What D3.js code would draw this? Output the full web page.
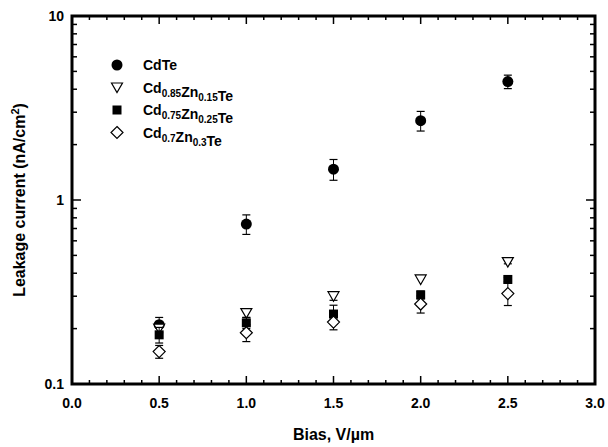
<!DOCTYPE html>
<html lang="en">
<head>
    <meta charset="UTF-8">
    <title>Leakage current vs bias</title>
    <script src="https://d3js.org/d3.v7.min.js"></script>
    <style>
        body { margin: 0; padding: 0; background: white; }
        svg { display: block; font-family: "Liberation Sans", Arial, sans-serif; font-weight: bold; }
        text { fill: black; }
    </style>
</head>
<body>
    <svg id="chart" width="608" height="447"></svg>

    <script>
        // data
        const bias = [0.5, 1.0, 1.5, 2.0, 2.5];
        const cdte = [0.21, 0.74, 1.47, 2.7, 4.4];
        const cdteErr = [0.02, 0.09, 0.19, 0.33, 0.37];
        const zn15 = [0.20, 0.243, 0.30, 0.37, 0.46];
        const zn15Err = [0.0, 0.013, 0.015, 0.0, 0.01];
        const zn25 = [0.185, 0.215, 0.24, 0.305, 0.37];
        const zn25Err = [0.018, 0.015, 0.028, 0.015, 0.01];
        const zn30 = [0.15, 0.19, 0.217, 0.272, 0.31];
        const zn30Err = [0.012, 0.02, 0.02, 0.029, 0.043];

        const xTicks = [0, 0.5, 1.0, 1.5, 2.0, 2.5, 3.0];
        const yTicks = [0.1, 1, 10];

        const series = [
            { name: "CdTe", sub: [], values: cdte, err: cdteErr, shape: "circle" },
            { name: "Cd0.85Zn0.15Te", sub: [["Cd", "0.85"], ["Zn", "0.15"], ["Te", ""]], values: zn15, err: zn15Err, shape: "triangle" },
            { name: "Cd0.75Zn0.25Te", sub: [["Cd", "0.75"], ["Zn", "0.25"], ["Te", ""]], values: zn25, err: zn25Err, shape: "square" },
            { name: "Cd0.7Zn0.3Te", sub: [["Cd", "0.7"], ["Zn", "0.3"], ["Te", ""]], values: zn30, err: zn30Err, shape: "diamond" }
        ];

        const margin = { left: 72, right: 13, top: 16, bottom: 63 };
        const width = 608, height = 447;
        const svg = d3.select("#chart");

        const x = d3.scaleLinear().domain([0, 3]).range([margin.left, width - margin.right]);
        const y = d3.scaleLog().domain([0.1, 10]).range([height - margin.bottom, margin.top]);

        const x0 = x.range()[0], x1 = x.range()[1];
        const y0 = y.range()[0], y1 = y.range()[1];

        // minor/major ticks
        const xMinor = d3.range(0, 3.001, 0.1).filter(v => Math.abs(v * 2 - Math.round(v * 2)) > 1e-6);
        const yMinor = [];
        [0.1, 1].forEach(d => { for (let k = 2; k <= 9; k++) yMinor.push(d * k); });

        const tickG = svg.append("g").attr("stroke", "black").attr("stroke-width", 1.5);
        xTicks.slice(1, -1).forEach(v => {
            tickG.append("line").attr("x1", x(v)).attr("x2", x(v)).attr("y1", y0).attr("y2", y0 - 8);
            tickG.append("line").attr("x1", x(v)).attr("x2", x(v)).attr("y1", y1).attr("y2", y1 + 8);
        });
        xMinor.forEach(v => {
            tickG.append("line").attr("x1", x(v)).attr("x2", x(v)).attr("y1", y0).attr("y2", y0 - 4);
            tickG.append("line").attr("x1", x(v)).attr("x2", x(v)).attr("y1", y1).attr("y2", y1 + 4);
        });
        yMinor.forEach(v => {
            tickG.append("line").attr("x1", x0).attr("x2", x0 + 5).attr("y1", y(v)).attr("y2", y(v));
            tickG.append("line").attr("x1", x1).attr("x2", x1 - 5).attr("y1", y(v)).attr("y2", y(v));
        });
        yTicks.forEach(v => {
            tickG.append("line").attr("x1", x0).attr("x2", x0 + 9).attr("y1", y(v)).attr("y2", y(v));
            tickG.append("line").attr("x1", x1).attr("x2", x1 - 9).attr("y1", y(v)).attr("y2", y(v));
        });

        // frame
        svg.append("rect")
            .attr("x", x0).attr("y", y1)
            .attr("width", x1 - x0).attr("height", y0 - y1)
            .attr("fill", "none").attr("stroke", "black").attr("stroke-width", 3);

        // tick labels
        svg.append("g").selectAll("text").data(xTicks).join("text")
            .attr("x", d => x(d)).attr("y", y0 + 24)
            .attr("text-anchor", "middle").attr("font-size", 14)
            .text(d => d.toFixed(1));

        svg.append("g").selectAll("text").data(yTicks).join("text")
            .attr("x", x0 - 8).attr("y", d => y(d) + 5)
            .attr("text-anchor", "end").attr("font-size", 14)
            .text(d => d3.format("~g")(d));

        // axis titles
        svg.append("text")
            .attr("x", (x0 + x1) / 2).attr("y", 440)
            .attr("text-anchor", "middle").attr("font-size", 16)
            .text("Bias, V/\u00b5m");

        const yl = svg.append("text")
            .attr("transform", `translate(${25},${(y0 + y1) / 2}) rotate(-90)`)
            .attr("text-anchor", "middle").attr("font-size", 16);
        yl.append("tspan").text("Leakage current (nA/cm");
        yl.append("tspan").attr("dy", -6).attr("font-size", 11).text("2");
        yl.append("tspan").attr("dy", 6).text(")");

        // markers
        function drawMarker(g, shape) {
            if (shape === "circle") {
                g.append("circle").attr("r", 5.5).attr("fill", "black");
            } else if (shape === "triangle") {
                g.append("path").attr("d", "M-5.5,-4.5 L5.5,-4.5 L0,5 Z")
                    .attr("fill", "white").attr("stroke", "black").attr("stroke-width", 1.2);
            } else if (shape === "square") {
                g.append("rect").attr("x", -4.5).attr("y", -4.5).attr("width", 9).attr("height", 9).attr("fill", "black");
            } else {
                g.append("path").attr("d", "M0,-6 L6,0 L0,6 L-6,0 Z")
                    .attr("fill", "white").attr("stroke", "black").attr("stroke-width", 1.2);
            }
        }

        const plot = svg.append("g");
        series.forEach(s => {
            const g = plot.append("g");
            bias.forEach((b, i) => {
                const v = s.values[i], e = s.err[i];
                if (e > 0) {
                    const yt = y(v + e), yb = y(v - e);
                    g.append("line").attr("x1", x(b)).attr("x2", x(b)).attr("y1", yt).attr("y2", yb)
                        .attr("stroke", "black").attr("stroke-width", 1);
                    [yt, yb].forEach(yy => g.append("line")
                        .attr("x1", x(b) - 4).attr("x2", x(b) + 4).attr("y1", yy).attr("y2", yy)
                        .attr("stroke", "black").attr("stroke-width", 1.2));
                }
                const m = g.append("g").attr("transform", `translate(${x(b)},${y(v)})`);
                drawMarker(m, s.shape);
            });
        });

        // legend
        const legend = svg.append("g");
        series.forEach((s, i) => {
            const ly = 65 + i * 22.5;
            drawMarker(legend.append("g").attr("transform", `translate(117,${ly})`), s.shape);
            const t = legend.append("text").attr("x", 143).attr("y", ly + 5).attr("font-size", 14);
            if (s.sub.length === 0) {
                t.text(s.name);
            } else {
                s.sub.forEach(([el, idx]) => {
                    t.append("tspan").text(el);
                    if (idx) {
                        t.append("tspan").attr("dy", 4).attr("font-size", 10).text(idx);
                        t.append("tspan").attr("dy", -4).text("");
                    }
                });
            }
        });
    </script>
</body>
</html>
